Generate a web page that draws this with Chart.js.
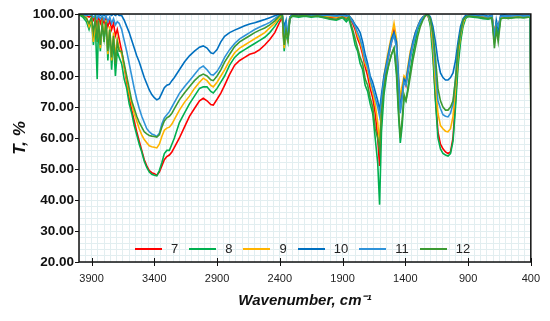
<!DOCTYPE html>
<html>
<head>
<meta charset="utf-8">
<script src="https://cdn.jsdelivr.net/npm/chart.js@4.4.0/dist/chart.umd.min.js"></script>
<style>
  html, body { margin: 0; padding: 0; background: #fff; }
  #wrap { position: relative; width: 550px; height: 321px; }
  #legend { position: absolute; left: 135px; top: 241px; display: flex; align-items: center;
            font: 13px "Liberation Sans", Arial, sans-serif; line-height: 16px; color: #222; }
  #legend .item { display: flex; align-items: center; margin-right: 11px; }
  #legend .swatch { width: 27px; height: 2px; margin-right: 9px; }
</style>
</head>
<body>
<div id="wrap"><canvas id="ftir"></canvas><div id="legend"></div></div>
<script>
const FONT = '"Liberation Sans", Arial, sans-serif';

const xTickLabels = [3900, 3400, 2900, 2400, 1900, 1400, 900, 400];
const yTickLabels = [20, 30, 40, 50, 60, 70, 80, 90, 100];

const wavenumbers = [
  4000, 3970, 3940, 3920, 3900, 3885, 3870, 3855, 3845, 3830, 3815, 3800, 3785, 3770, 3755, 3740, 3725, 3710, 3695, 3680,
  3660, 3640, 3620, 3600, 3580, 3560, 3540, 3520, 3500, 3480, 3460, 3440, 3420,
  3400, 3380, 3360, 3340, 3320, 3300, 3280, 3260, 3240, 3200, 3160, 3120, 3080, 3040, 3010, 2980, 2950, 2930, 2900, 2870, 2840, 2800, 2760, 2720, 2680, 2640, 2600, 2560, 2520, 2480, 2440,
  2400, 2380, 2365, 2350, 2335, 2320, 2300, 2250, 2200, 2150, 2100, 2050, 2000, 1950, 1900,
  1870, 1850, 1820, 1800, 1780, 1760, 1740, 1720, 1700, 1680, 1660, 1640, 1620, 1605, 1590, 1570, 1550, 1530, 1510, 1490, 1470, 1455, 1440, 1425, 1410,
  1395, 1380, 1360, 1340, 1320, 1300, 1280, 1260, 1240, 1220,
  1200, 1180, 1160, 1140, 1120, 1100, 1080, 1060, 1040, 1020, 1000, 980, 960, 940, 920,
  900, 860, 820, 780, 740, 710, 690, 675, 660, 640, 610, 580, 540, 500, 460, 420, 405, 400
];

const t7 = [
  100, 99.8, 99.5, 99, 99.5, 98, 99, 96, 99, 97, 99, 97, 99, 96, 98, 95, 97, 93, 95, 92,
  88, 83, 78, 73, 69, 65.5, 62, 59, 56, 53, 51, 49.5, 48.8,
  48.5, 48, 49, 51, 53, 54, 54.5, 55.5, 57, 60, 63.5, 67, 69.5, 72, 72.8, 72, 70.8, 70.6, 72.5, 74.5, 77, 80.5, 83.5, 85, 86, 87, 87.5, 88.5, 90, 91.8, 94,
  97.5, 99, 90, 95, 93, 99, 99.5, 99.4, 99.6, 99.4, 99.5, 99.2, 99, 98.8, 99.3,
  98.8, 99.5, 97, 95, 92, 90, 87, 83, 80, 76, 73, 68, 60, 51, 70, 78, 83, 87, 91, 95, 90, 78, 71, 75, 79,
  77, 81, 86, 90, 93, 96, 97.5, 99, 99.5, 99.5,
  97, 88, 73, 62, 58, 56.5, 55.5, 55, 55.5, 60, 72, 85, 92, 97, 99,
  99.5, 99.5, 99.3, 99.2, 99, 99.2, 94, 97, 96, 99, 99.2, 99, 99.2, 99.3, 99.1, 99.2, 99, 72
];

const t8 = [
  99.8, 99, 97.5, 95, 98, 90, 97, 79, 96, 88, 97, 91, 98, 85, 95, 82, 92, 80, 88, 86,
  84, 79, 76, 71, 68, 64, 61, 58, 55.5, 52.5, 50.5, 49, 48.3,
  48, 47.8, 49.5, 52, 55, 56, 56, 58, 60, 65, 68, 71, 73.5, 76, 76.5, 76.5, 75, 74.5, 76, 78, 80, 83.5, 86, 87.5, 88.5, 89.5, 90.5, 91.5, 92.5, 94, 96,
  98.5, 99.5, 88, 94, 91, 98.5, 99.3, 99, 99.3, 99, 99.2, 98.8, 98.3, 98, 98.8,
  97.5, 98.5, 94, 90, 88, 84, 82, 77, 75, 71, 68, 60, 52, 38.5, 62, 74, 80, 84, 87, 89, 80, 68, 58.4, 64, 73,
  72, 76, 82, 87, 91, 95, 97, 98.5, 99.5, 99.8,
  96, 86, 72, 60, 56.5, 55, 54.5, 54.2, 55, 59, 70, 83, 91, 96, 98.5,
  99.2, 99, 98.8, 98.5, 98.3, 98.6, 91, 96, 93, 98.5, 98.8, 98.6, 98.8, 99, 98.8, 99, 98.8, 70
];

const t9 = [
  100, 99.7, 99, 96, 98.5, 91, 97.5, 92, 98, 89, 97, 93, 98, 87, 96, 85, 94, 86, 92, 89,
  87, 83, 79, 74.5, 71, 68, 65.5, 63, 61, 59.5, 58.5, 57.5, 57.2,
  57, 56.8, 58, 60.5, 62.5, 63.2, 63.5, 64.5, 66, 69, 71.5, 73.5, 76, 78, 79.3, 78.5, 77, 76.5, 78, 80, 82, 85, 87.5, 89, 90, 91, 92, 93, 94, 95.5, 97,
  99, 99.5, 89, 95, 92, 99, 99.7, 99.5, 99.8, 99.5, 99.6, 99.4, 99.2, 99, 99.5,
  99, 99.5, 98, 96, 93, 91, 88, 84, 82, 78, 75, 71, 65, 58, 72, 80, 85, 89, 93, 97, 92, 80, 73, 77, 80,
  79, 83, 88, 91, 94, 96, 98, 99, 99.7, 99.8,
  97.5, 90, 78, 68, 64, 63, 62.2, 62, 63, 67, 76, 87, 93, 97, 99,
  99.5, 99.6, 99.4, 99.4, 99, 99.3, 94, 97, 96, 99, 99.3, 99.2, 99.3, 99.4, 99.2, 99.3, 99.1, 73
];

const t10 = [
  100, 100, 99.8, 100, 99.6, 100, 99.7, 99.8, 100, 99.6, 100, 99.5, 100, 99.7, 100, 99.5, 100, 99.5, 100, 99.5,
  99.5, 98, 96, 94, 91.5, 89, 86.5, 84.5, 82, 79.5, 77.5, 75.5, 74,
  73, 72.3, 72.8, 74.5, 76.2, 77, 77.3, 78.5, 79.5, 82, 84.5, 86.5, 88, 89.3, 89.7, 89, 87.5, 87.2, 88.5, 91, 92.8, 94, 94.8, 95.5, 96.2, 96.8, 97.2, 97.7, 98.2, 98.8, 99.4,
  100, 99.5, 96, 98, 92, 99, 99.8, 99.5, 100, 99.7, 100, 99.8, 100, 99.5, 100,
  99.6, 99.5, 98, 96.5, 95.5, 94, 91, 87, 84, 80, 78, 75, 72, 69, 74, 80, 84, 88, 92, 94, 91, 80, 69, 74, 79,
  78, 82, 87, 91, 94, 96, 98, 99, 99.5, 100,
  99, 96, 91, 85, 81, 79.5, 78.7, 78.7, 79.5, 81, 85, 91, 96, 98.5, 99.5,
  99.5, 99.8, 99.5, 99.7, 99.3, 99.6, 92, 98, 95, 99.5, 99.7, 99.5, 99.6, 99.7, 99.5, 99.6, 99.4, 75
];

const t11 = [
  100, 99.8, 99.5, 99.8, 99.5, 99, 99.5, 98.5, 99.5, 98.5, 99.5, 98, 99.5, 97.5, 99, 97, 98.5, 96.5, 97.5, 97,
  95, 91.5, 88, 84, 80, 76, 72.5, 69.5, 67, 65, 63, 62, 61.3,
  61, 60.5, 61.5, 64.5, 66.5, 67.5, 68.5, 70, 71.5, 74.4, 76.5, 78.5, 80.5, 82.5, 83.2, 82, 80.5, 80.3, 81.5, 83.5, 86, 88.5, 90.5, 92, 93, 94, 95, 95.8, 96.5, 97.3, 98.5,
  99.8, 99.5, 94, 97, 93, 99, 99.8, 99.6, 99.8, 99.5, 99.7, 99.6, 99.5, 99.3, 99.6,
  99.2, 99.5, 97.5, 96, 94, 92, 89, 85, 83, 79, 76, 73, 70, 67, 72, 79, 83, 87, 91, 93, 89, 78, 68, 73, 78,
  77, 81, 86, 90, 93, 96, 97.5, 99, 99.5, 99.8,
  98, 93, 82, 72, 69.5, 67.5, 67, 66.8, 68, 71, 79, 89, 94, 98, 99,
  99.5, 99.6, 99.3, 99.5, 99, 99.4, 93, 97, 96, 99.2, 99.4, 99.3, 99.4, 99.5, 99.3, 99.4, 99.2, 74
];

const t12 = [
  99.8, 99.5, 98.5, 97, 99, 94, 98.5, 91, 98, 90, 97, 92, 97.5, 88, 95, 86, 93, 84, 91, 88,
  88, 84, 80, 76, 72, 69.5, 67, 65, 63.5, 62, 61.3, 60.8, 60.6,
  60.5, 60.3, 61, 63.5, 65.5, 66.5, 67, 68, 69.5, 72.3, 74.5, 76.5, 78.5, 80, 80.6, 80, 78.8, 78.5, 80, 82, 84.5, 87, 89.5, 91, 92, 93, 94, 94.8, 95.5, 96.5, 97.8,
  99.5, 99.5, 90, 95, 92, 98.5, 99.5, 99.3, 99.5, 99.2, 99.4, 99, 98.5, 98.3, 99,
  98.2, 99, 95, 92, 89, 86, 84, 79, 77, 73, 70, 63, 60, 56, 68, 76, 81, 84, 87, 89, 82, 70, 60, 66, 74,
  72, 75, 80, 85, 89, 93, 96, 98, 99.5, 100,
  98.5, 94, 86, 76, 72, 70, 69, 69, 70, 72, 79, 89, 94, 98, 99,
  99.3, 99.2, 99, 98.8, 98.5, 98.8, 89, 95, 91, 98.5, 98.8, 98.6, 98.8, 99, 98.8, 99, 98.8, 67
];

const seriesNames = ['7', '8', '9', '10', '11', '12'];
const seriesValues = [t7, t8, t9, t10, t11, t12];
const seriesColors = ['#ff0000', '#00b050', '#ffb400', '#0070c0', '#2f93d9', '#3c9a32'];

const gridColor = '#e2eef0';

// box round the plot + the major tick marks that cross the axes
const frame = {
  id: 'frame',
  afterDraw(chart) {
    const { ctx, chartArea: a, scales: { x, y } } = chart;
    ctx.save();
    ctx.strokeStyle = '#111';
    ctx.lineWidth = 1.5;
    ctx.strokeRect(a.left, a.top, a.right - a.left, a.bottom - a.top);
    ctx.lineWidth = 1;
    ctx.beginPath();
    xTickLabels.forEach((v) => {
      const px = Math.round(x.getPixelForValue(v)) + 0.5;
      ctx.moveTo(px, a.bottom - 4);
      ctx.lineTo(px, a.bottom + 4);
    });
    yTickLabels.forEach((v) => {
      const py = Math.round(y.getPixelForValue(v)) + 0.5;
      ctx.moveTo(a.left - 4, py);
      ctx.lineTo(a.left, py);
    });
    ctx.stroke();
    ctx.restore();
  }
};

const chart = new Chart(document.getElementById('ftir'), {
  type: 'line',
  data: {
    datasets: seriesNames.map((name, i) => ({
      label: name,
      data: wavenumbers.map((w, j) => ({ x: w, y: seriesValues[i][j] })),
      borderColor: seriesColors[i],
      backgroundColor: seriesColors[i],
      borderWidth: 1.6,
      pointRadius: 0,
      tension: 0,
      order: seriesNames.length - i,
    })),
  },
  options: {
    animation: false,
    responsive: true,
    maintainAspectRatio: false,
    layout: {
      padding: { top: 14, right: 17, left: 0, bottom: 0 },
    },
    plugins: {
      legend: { display: false },
      tooltip: { enabled: false },
    },
    scales: {
      x: {
        type: 'linear',
        reverse: true,
        min: 400,
        max: 4000,
        afterFit: (scale) => { scale.height = 59; },
        border: { display: false },
        grid: { color: gridColor, drawTicks: false },
        ticks: {
          stepSize: 50,
          autoSkip: false,
          maxRotation: 0,
          padding: 10,
          color: '#222',
          font: { family: FONT, size: 11 },
          callback: (v) => (xTickLabels.includes(v) ? String(v) : ''),
        },
        title: {
          display: true,
          text: 'Wavenumber, cm⁻¹',
          color: '#111',
          font: { family: FONT, size: 15, weight: 'bold', style: 'italic' },
          padding: { top: 0, bottom: 11 },
        },
      },
      y: {
        min: 20,
        max: 100,
        afterFit: (scale) => { scale.width = 79; },
        border: { display: false },
        grid: { color: gridColor, drawTicks: false },
        ticks: {
          stepSize: 2,
          autoSkip: false,
          padding: 5,
          color: '#111',
          font: { family: FONT, size: 13.5, weight: 'bold' },
          callback: (v) => (yTickLabels.includes(v) ? v.toFixed(2) : ''),
        },
        title: {
          display: true,
          text: 'T, %',
          color: '#111',
          font: { family: FONT, size: 17, weight: 'bold', style: 'italic' },
          padding: { top: 10, bottom: 0 },
        },
      },
    },
  },
  plugins: [frame],
});

// legend sits inside the plot, along the bottom
const legendEl = document.getElementById('legend');
chart.data.datasets.forEach((ds) => {
  const item = document.createElement('div');
  item.className = 'item';
  const sw = document.createElement('span');
  sw.className = 'swatch';
  sw.style.background = ds.borderColor;
  const txt = document.createElement('span');
  txt.textContent = ds.label;
  item.appendChild(sw);
  item.appendChild(txt);
  legendEl.appendChild(item);
});
</script>
</body>
</html>
